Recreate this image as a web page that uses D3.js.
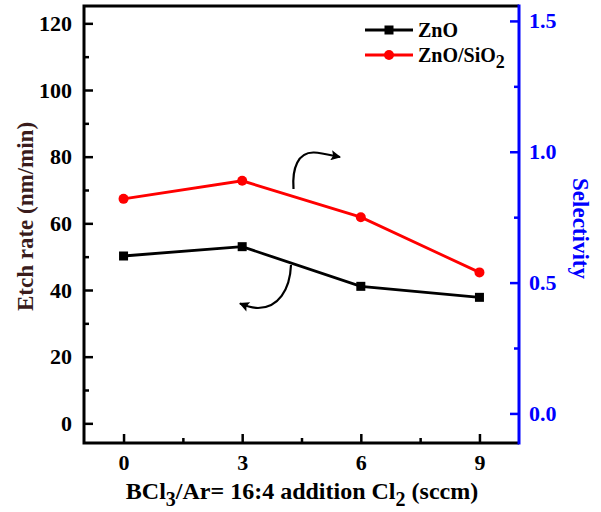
<!DOCTYPE html>
<html>
<head>
<meta charset="utf-8">
<script src="https://d3js.org/d3.v7.min.js"></script>
<style>
  html, body { margin: 0; padding: 0; background: #fff; }
  svg { display: block; }
  text { font-family: "Liberation Serif", "Times New Roman", serif; font-weight: bold; }
</style>
</head>
<body>
<svg id="chart" width="601" height="512"></svg>
<script>
// Cl2 flow added to the BCl3/Ar (16:4) plasma, sccm
const cl2Flow = [0, 3, 6, 9];
// ZnO etch rate, nm/min (left axis)
const znoEtchRate = [50.2, 53.0, 41.1, 37.8];
// ZnO/SiO2 etch selectivity (right axis)
const znoSio2Selectivity = [0.820, 0.889, 0.750, 0.539];

const xTicks = [0, 3, 6, 9];
const xMinorTicks = [1.5, 4.5, 7.5];
const leftTicks = [0, 20, 40, 60, 80, 100, 120];
const leftMinorTicks = [10, 30, 50, 70, 90, 110];
const rightTicks = [0, 0.5, 1.0, 1.5];
const rightMinorTicks = [0.25, 0.75, 1.25];

const svg = d3.select("#chart");
const plot = { left: 84, right: 519, top: 6, bottom: 443 };
const blue = "#0000ff";

const x = d3.scaleLinear().domain([-1, 10]).range([plot.left, plot.right]);
const yLeft = d3.scaleLinear().domain([-5.9, 125.2]).range([plot.bottom, plot.top]);
const yRight = d3.scaleLinear().domain([-0.113, 1.557]).range([plot.bottom, plot.top]);

// Axes with inward ticks
function styleAxis(g, color, size) {
  g.select(".domain").remove();
  g.selectAll(".tick line").attr("stroke", color).attr("stroke-width", 2.5);
  g.selectAll(".tick text").attr("fill", color).style("font-size", size + "px");
}

// bottom axis
const xAxis = d3.axisBottom(x).tickValues(xTicks).tickSize(-9).tickPadding(11).tickFormat(d3.format("d"));
svg.append("g").attr("transform", `translate(0,${plot.bottom})`).call(xAxis)
  .call(g => styleAxis(g, "#000", 22));
svg.append("g").attr("transform", `translate(0,${plot.bottom})`)
  .call(d3.axisBottom(x).tickValues(xMinorTicks).tickSize(-5).tickFormat(""))
  .call(g => styleAxis(g, "#000", 22));

// left axis
svg.append("g").attr("transform", `translate(${plot.left},0)`)
  .call(d3.axisLeft(yLeft).tickValues(leftTicks).tickSize(-9).tickPadding(12).tickFormat(d3.format("d")))
  .call(g => styleAxis(g, "#000", 22));
svg.append("g").attr("transform", `translate(${plot.left},0)`)
  .call(d3.axisLeft(yLeft).tickValues(leftMinorTicks).tickSize(-5).tickFormat(""))
  .call(g => styleAxis(g, "#000", 22));

// right axis
svg.append("g").attr("transform", `translate(${plot.right},0)`)
  .call(d3.axisRight(yRight).tickValues(rightTicks).tickSize(-9).tickPadding(10).tickFormat(d3.format(".1f")))
  .call(g => styleAxis(g, blue, 22));
svg.append("g").attr("transform", `translate(${plot.right},0)`)
  .call(d3.axisRight(yRight).tickValues(rightMinorTicks).tickSize(-5).tickFormat(""))
  .call(g => styleAxis(g, blue, 22));

// frame
svg.append("path")
  .attr("d", `M${plot.right},${plot.top}H${plot.left}V${plot.bottom}H${plot.right}`)
  .attr("fill", "none").attr("stroke", "#000").attr("stroke-width", 3);
svg.append("line")
  .attr("x1", plot.right).attr("x2", plot.right)
  .attr("y1", plot.top - 1.5).attr("y2", plot.bottom + 1.5)
  .attr("stroke", blue).attr("stroke-width", 3);

// axis titles
svg.append("text")
  .attr("transform", `translate(33,${(plot.top + plot.bottom) / 2 - 8}) rotate(-90)`)
  .attr("text-anchor", "middle").attr("fill", "#3a1c1c").style("font-size", "23px")
  .text("Etch rate (nm/min)");

svg.append("text")
  .attr("transform", `translate(573,${(plot.top + plot.bottom) / 2 + 4}) rotate(90)`)
  .attr("text-anchor", "middle").attr("fill", blue).style("font-size", "23px")
  .text("Selectivity");

const xTitle = svg.append("text")
  .attr("x", 302).attr("y", 499).attr("text-anchor", "middle").attr("fill", "#000")
  .style("font-size", "24px");
xTitle.append("tspan").text("BCl");
xTitle.append("tspan").attr("dy", 7).style("font-size", "20px").text("3");
xTitle.append("tspan").attr("dy", -7).text("/Ar= 16:4 addition Cl");
xTitle.append("tspan").attr("dy", 7).style("font-size", "20px").text("2");
xTitle.append("tspan").attr("dy", -7).text(" (sccm)");

// series
const lineLeft = d3.line().x((d, i) => x(cl2Flow[i])).y(d => yLeft(d));
const lineRight = d3.line().x((d, i) => x(cl2Flow[i])).y(d => yRight(d));

svg.append("path").datum(znoEtchRate).attr("d", lineLeft)
  .attr("fill", "none").attr("stroke", "#000").attr("stroke-width", 2.8);
svg.append("path").datum(znoSio2Selectivity).attr("d", lineRight)
  .attr("fill", "none").attr("stroke", "#ff0000").attr("stroke-width", 2.8);

svg.selectAll(".sq").data(znoEtchRate).join("rect").attr("class", "sq")
  .attr("x", (d, i) => x(cl2Flow[i]) - 4.5).attr("y", d => yLeft(d) - 4.5)
  .attr("width", 9).attr("height", 9).attr("fill", "#000");
svg.selectAll(".dot").data(znoSio2Selectivity).join("circle").attr("class", "dot")
  .attr("cx", (d, i) => x(cl2Flow[i])).attr("cy", d => yRight(d))
  .attr("r", 5).attr("fill", "#ff0000");

// curved arrows pointing to each series' axis
svg.append("defs").append("marker")
  .attr("id", "head").attr("viewBox", "0 0 10 10").attr("refX", 9).attr("refY", 5)
  .attr("markerWidth", 16).attr("markerHeight", 10).attr("markerUnits", "userSpaceOnUse")
  .attr("orient", "auto")
  .append("path").attr("d", "M0,0L10,5L0,10L2,5Z").attr("fill", "#000");

svg.append("path")
  .attr("d", "M293.5,189 C292,168 298,152 314,152.5 C322,153 330,155 340,157")
  .attr("fill", "none").attr("stroke", "#000").attr("stroke-width", 2.2)
  .attr("marker-end", "url(#head)");
svg.append("path")
  .attr("d", "M291,265 C290,290 278,308 258,308 C252,308 246,306 240,303.5")
  .attr("fill", "none").attr("stroke", "#000").attr("stroke-width", 2.2)
  .attr("marker-end", "url(#head)");

// legend
const legend = [
  { label: "ZnO", sub: "", color: "#000", shape: "square", y: 30 },
  { label: "ZnO/SiO", sub: "2", color: "#ff0000", shape: "circle", y: 55 }
];
const lg = svg.append("g");
legend.forEach(item => {
  lg.append("line").attr("x1", 365).attr("x2", 413).attr("y1", item.y).attr("y2", item.y)
    .attr("stroke", item.color).attr("stroke-width", 2.8);
  if (item.shape === "square") {
    lg.append("rect").attr("x", 389 - 4.5).attr("y", item.y - 4.5).attr("width", 9).attr("height", 9).attr("fill", item.color);
  } else {
    lg.append("circle").attr("cx", 389).attr("cy", item.y).attr("r", 5).attr("fill", item.color);
  }
  const t = lg.append("text").attr("x", 418).attr("y", item.y + 7).attr("fill", "#000").style("font-size", "20px");
  t.append("tspan").text(item.label);
  if (item.sub) t.append("tspan").attr("dy", 6).style("font-size", "18px").text(item.sub);
});
</script>
</body>
</html>
